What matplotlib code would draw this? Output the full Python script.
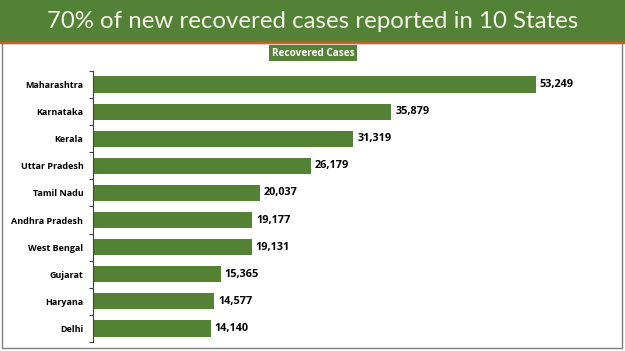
import matplotlib
matplotlib.use("Agg")
import matplotlib.pyplot as plt
import matplotlib.patches as mpatches
import numpy as np

# ── Data ─────────────────────────────────────────────────────────────────────
states = ["Maharashtra", "Karnataka", "Kerala", "Uttar Pradesh", "Tamil Nadu",
          "Andhra Pradesh", "West Bengal", "Gujarat", "Haryana", "Delhi"]
recovered = [53249, 35879, 31319, 26179, 20037, 19177, 19131, 15365, 14577, 14140]

TITLE = "70% of new recovered cases reported in 10 States"
LEGEND_LABEL = "Recovered Cases"

C_GREEN = "#548235"
C_HEAD = "#538135"
C_LINE = "#c55a11"

W, H = 625, 351
fig = plt.figure(figsize=(W / 100, H / 100), dpi=100)

# header band
fig.patches.append(mpatches.Rectangle((0, 1 - 41 / H), 1, 41 / H,
                                      transform=fig.transFigure,
                                      color=C_HEAD, zorder=0))
fig.patches.append(mpatches.Rectangle((0, 1 - 42.5 / H), 1, 1.5 / H,
                                      transform=fig.transFigure,
                                      color=C_LINE, zorder=0))
fig.text(0.5, 1 - 21 / H, TITLE, ha="center", va="center", color="#f4f4ea",
         fontsize=17.3, family="Lato")

# panel border
fig.patches.append(mpatches.Rectangle((2 / W, 3 / H), 620 / W, (H - 45.5) / H,
                                      transform=fig.transFigure, fill=False,
                                      edgecolor="#7f7f7f", lw=1.0, zorder=0))

# legend box
fig.text(313 / W, 1 - 53 / H, LEGEND_LABEL, ha="center", va="center",
         color="white", fontsize=7.2, fontweight="bold", family="Open Sans",
         bbox=dict(boxstyle="square,pad=0.25", fc=C_GREEN, ec="none"))

# chart
ax = fig.add_axes([93 / W, 1 - 342 / H, 499 / W, 271 / H])
y = np.arange(len(states))
ax.barh(y, recovered, height=0.6, color=C_GREEN)
ax.set_ylim(len(states) - 0.5, -0.5)
ax.set_xlim(0, 60000)

for i, v in enumerate(recovered):
    ax.text(v + 450, i, f"{v:,}", va="center", ha="left", fontsize=7.8,
            fontweight="bold", family="Open Sans", color="black")

ax.set_yticks(y)
ax.set_yticklabels(states, fontsize=6.5, fontweight="bold", family="Open Sans")
ax.tick_params(axis="y", which="major", length=0, pad=7)
ax.set_yticks(np.arange(-0.5, len(states)), minor=True)
ax.tick_params(axis="y", which="minor", length=3, width=0.8, color="#404040")
ax.set_xticks([])
for s in ["top", "right", "bottom"]:
    ax.spines[s].set_visible(False)
ax.spines["left"].set_color("#404040")
ax.spines["left"].set_linewidth(0.8)

fig.savefig("out.png", dpi=100)
